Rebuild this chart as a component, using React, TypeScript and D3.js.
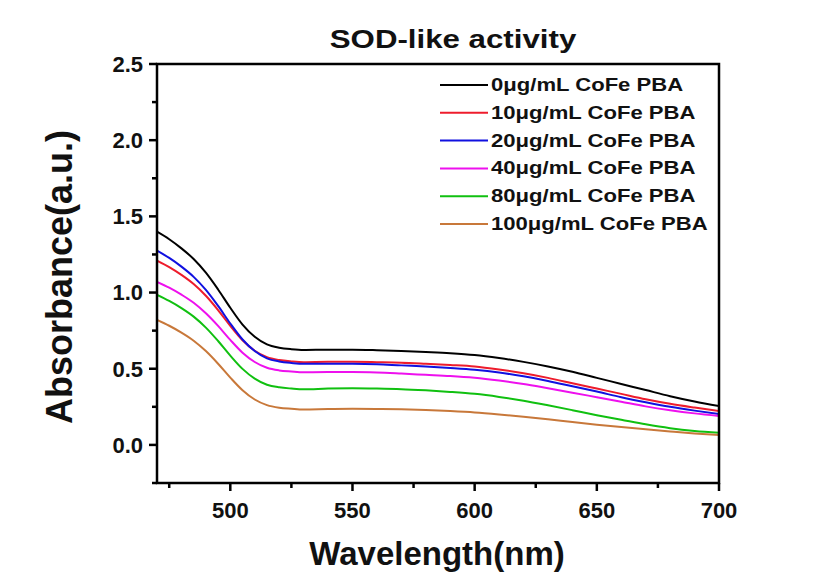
import React from "react";
import * as d3 from "d3";

const wavelengths = [470, 475, 480, 485, 490, 495, 500, 505, 510, 515, 520, 525, 530, 540, 550, 560, 570, 580, 590, 600, 610, 620, 630, 640, 650, 660, 670, 680, 690, 700];

const s0 = [1.40, 1.35, 1.29, 1.22, 1.13, 1.02, 0.90, 0.79, 0.71, 0.66, 0.638, 0.628, 0.623, 0.625, 0.625, 0.622, 0.617, 0.61, 0.602, 0.59, 0.57, 0.545, 0.515, 0.48, 0.44, 0.40, 0.36, 0.32, 0.285, 0.255];
const s10 = [1.21, 1.167, 1.116, 1.056, 0.979, 0.885, 0.781, 0.687, 0.618, 0.576, 0.557, 0.548, 0.543, 0.545, 0.545, 0.543, 0.54, 0.533, 0.525, 0.515, 0.495, 0.47, 0.44, 0.405, 0.37, 0.335, 0.30, 0.27, 0.245, 0.222];
const s20 = [1.275, 1.227, 1.17, 1.103, 1.017, 0.912, 0.797, 0.692, 0.616, 0.568, 0.548, 0.538, 0.532, 0.533, 0.533, 0.53, 0.522, 0.515, 0.505, 0.493, 0.475, 0.45, 0.42, 0.385, 0.35, 0.313, 0.28, 0.25, 0.225, 0.203];
const s40 = [1.07, 1.032, 0.986, 0.933, 0.864, 0.781, 0.689, 0.605, 0.544, 0.506, 0.489, 0.482, 0.477, 0.478, 0.478, 0.475, 0.468, 0.46, 0.452, 0.44, 0.422, 0.40, 0.372, 0.343, 0.313, 0.283, 0.253, 0.228, 0.207, 0.19];
const s80 = [0.985, 0.945, 0.898, 0.842, 0.77, 0.682, 0.586, 0.499, 0.435, 0.395, 0.378, 0.37, 0.365, 0.37, 0.372, 0.37, 0.366, 0.358, 0.348, 0.335, 0.315, 0.29, 0.26, 0.228, 0.195, 0.165, 0.135, 0.11, 0.092, 0.08];
const s100 = [0.82, 0.782, 0.737, 0.684, 0.616, 0.533, 0.442, 0.359, 0.298, 0.261, 0.244, 0.237, 0.232, 0.235, 0.237, 0.236, 0.234, 0.229, 0.222, 0.213, 0.2, 0.185, 0.168, 0.15, 0.133, 0.117, 0.102, 0.088, 0.075, 0.065];

const seriesNames = ["0μg/mL CoFe PBA", "10μg/mL CoFe PBA", "20μg/mL CoFe PBA", "40μg/mL CoFe PBA", "80μg/mL CoFe PBA", "100μg/mL CoFe PBA"];
const seriesValues = [s0, s10, s20, s40, s80, s100];
const seriesColors = ["#000000", "#ee1c2c", "#1010e0", "#ee10ee", "#10c010", "#c8783a"];

const xMajorTicks = [500, 550, 600, 650, 700];
const xMinorTicks = [475, 525, 575, 625, 675];
const yMajorTicks = [0.0, 0.5, 1.0, 1.5, 2.0, 2.5];
const yMinorTicks = [-0.25, 0.25, 0.75, 1.25, 1.75, 2.25];

const W = 829, H = 575;
const L = 157, R = 719, T = 64, B = 483;
const FONT = "Liberation Sans, Arial, Helvetica, sans-serif";

export default function App() {
  const x = d3.scaleLinear().domain([470, 700]).range([L, R]);
  const y = d3.scaleLinear().domain([-0.25, 2.5]).range([B, T]);
  const line = d3.line<number>()
    .x((_, i) => x(wavelengths[i]))
    .y((d) => y(d))
    .curve(d3.curveMonotoneX);

  return (
    <svg width={W} height={H} style={{ position: "absolute", left: 0, top: 0, background: "#fff" }}>
      <rect x={0} y={0} width={W} height={H} fill="#fff" />
      <defs>
        <clipPath id="clip">
          <rect x={L} y={T} width={R - L} height={B - T} />
        </clipPath>
      </defs>
      <g clipPath="url(#clip)">
        {seriesValues.map((vals, i) => (
          <path key={i} d={line(vals) || ""} fill="none" stroke={seriesColors[i]} strokeWidth={2} />
        ))}
      </g>
      <rect x={L} y={T} width={R - L} height={B - T} fill="none" stroke="#000" strokeWidth={2.5} />
      {xMajorTicks.map((t) => (
        <g key={"xm" + t}>
          <line x1={x(t)} x2={x(t)} y1={B} y2={B + 8} stroke="#000" strokeWidth={2.5} />
          <text x={x(t)} y={518} textAnchor="middle" fontFamily={FONT} fontWeight="bold" fontSize={22} fill="#111">{t}</text>
        </g>
      ))}
      {xMinorTicks.map((t) => (
        <line key={"xn" + t} x1={x(t)} x2={x(t)} y1={B} y2={B + 5} stroke="#000" strokeWidth={2.5} />
      ))}
      {yMajorTicks.map((t) => (
        <g key={"ym" + t}>
          <line x1={L - 8} x2={L} y1={y(t)} y2={y(t)} stroke="#000" strokeWidth={2.5} />
          <text x={143} y={y(t)} dy="0.36em" textAnchor="end" fontFamily={FONT} fontWeight="bold" fontSize={22} fill="#111">{t.toFixed(1)}</text>
        </g>
      ))}
      {yMinorTicks.map((t) => (
        <line key={"yn" + t} x1={L - 5} x2={L} y1={y(t)} y2={y(t)} stroke="#000" strokeWidth={2.5} />
      ))}
      <text transform={`translate(453,48) scale(1.25,1)`} textAnchor="middle" fontFamily={FONT} fontWeight="bold" fontSize={25} fill="#111">SOD-like activity</text>
      <text x={437} y={565} textAnchor="middle" fontFamily={FONT} fontWeight="bold" fontSize={33} fill="#111">Wavelength(nm)</text>
      <text transform={`translate(72,277) rotate(-90)`} textAnchor="middle" fontFamily={FONT} fontWeight="bold" fontSize={36} fill="#111">Absorbance(a.u.)</text>
      {seriesNames.map((name, i) => {
        const yy = 85 + i * 27.8;
        return (
          <g key={name}>
            <line x1={440} x2={488} y1={yy} y2={yy} stroke={seriesColors[i]} strokeWidth={2} />
            <text transform={`translate(491,${yy + 6}) scale(1.24,1)`} fontFamily={FONT} fontWeight="bold" fontSize={17.8} fill="#111">{name}</text>
          </g>
        );
      })}
    </svg>
  );
}
